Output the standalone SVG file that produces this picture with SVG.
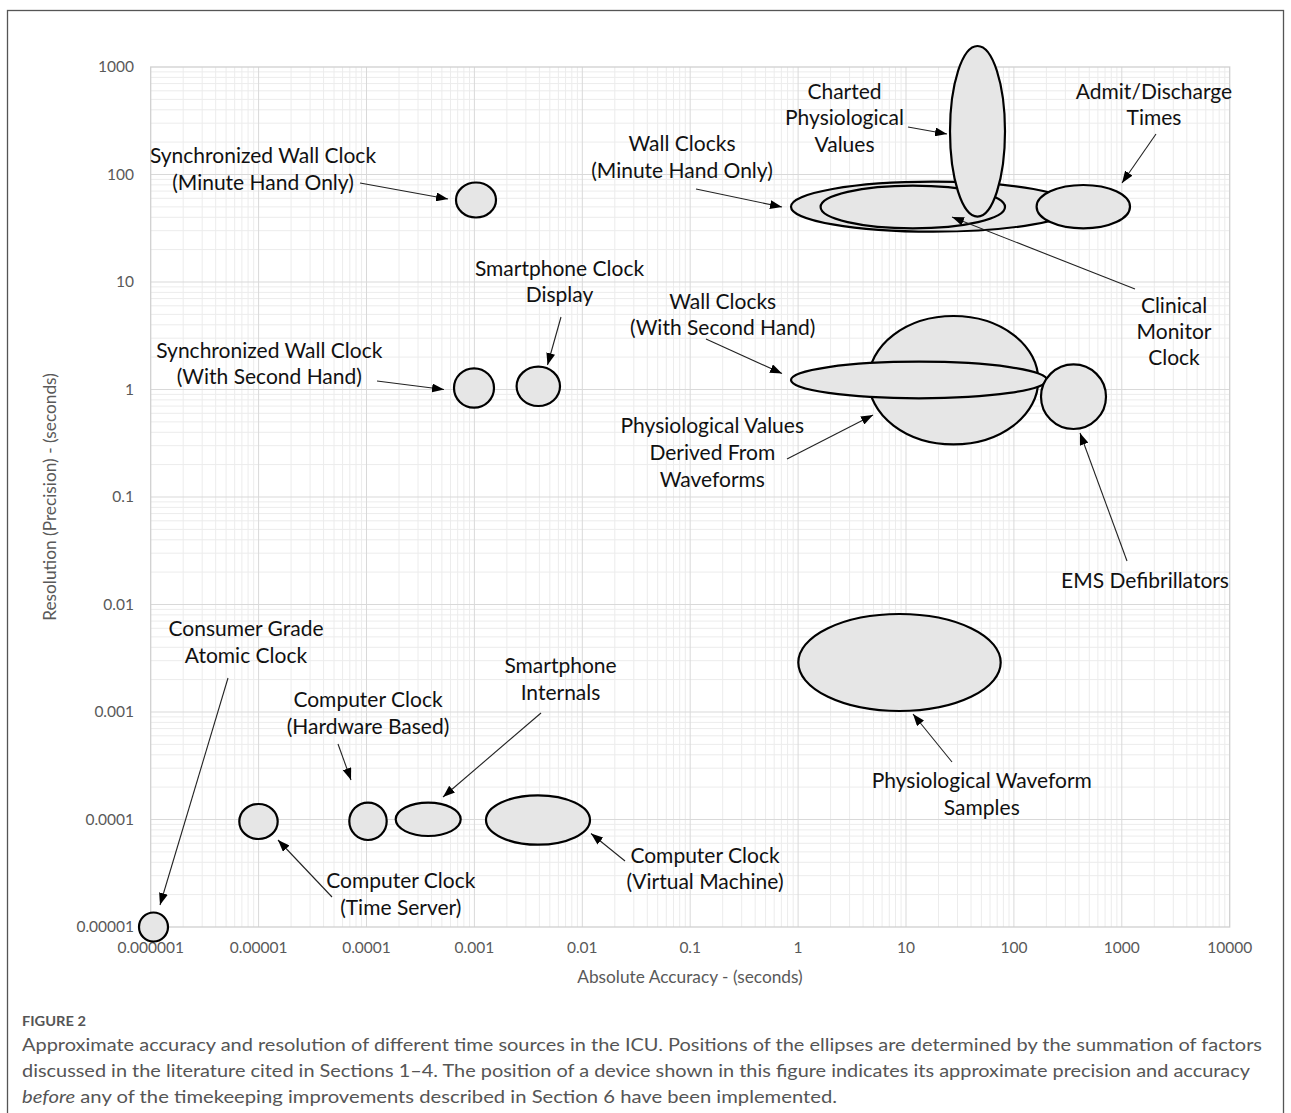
<svg xmlns="http://www.w3.org/2000/svg" width="1291" height="1113" viewBox="0 0 1291 1113">
<defs>
<style>
.minor{stroke:#ececec;stroke-width:1;fill:none}
.major{stroke:#d9d9d9;stroke-width:1;fill:none}
.ell{fill:#e6e6e6;stroke:#000;stroke-width:2.2}
.lbl{font-family:Lato,"Liberation Sans",sans-serif;font-size:21px;fill:#111;text-anchor:middle}
.tick{font-family:Lato,"Liberation Sans",sans-serif;font-size:15.5px;fill:#595959}
.ytick{text-anchor:end}
.xtick{text-anchor:middle}
.axt{font-family:Lato,"Liberation Sans",sans-serif;font-size:17.3px;fill:#595959;text-anchor:middle}
.cap{font-family:Lato,"Liberation Sans",sans-serif;font-size:17px;fill:#555}
.conn line{stroke:#222;stroke-width:1.1;marker-end:url(#ah)}
</style>
<marker id="ah" viewBox="0 0 12 9" refX="12" refY="4.5" markerWidth="12" markerHeight="9" orient="auto" markerUnits="userSpaceOnUse">
<path d="M0,0 L12,4.5 L0,9 z" fill="#000"/>
</marker>
</defs>
<rect x="0" y="0" width="1291" height="1113" fill="#fff"/>
<rect x="7.5" y="10.5" width="1276" height="1120" fill="none" stroke="#555" stroke-width="1.3"/>
<g id="grid">
<path class="minor" d="M183.2,67V927M202.2,67V927M215.7,67V927M226.1,67V927M234.7,67V927M241.9,67V927M248.1,67V927M253.7,67V927M291.1,67V927M310.1,67V927M323.6,67V927M334,67V927M342.6,67V927M349.8,67V927M356,67V927M361.6,67V927M399,67V927M418,67V927M431.5,67V927M441.9,67V927M450.5,67V927M457.7,67V927M463.9,67V927M469.5,67V927M506.9,67V927M525.9,67V927M539.4,67V927M549.8,67V927M558.4,67V927M565.6,67V927M571.8,67V927M577.4,67V927M614.8,67V927M633.8,67V927M647.3,67V927M657.7,67V927M666.3,67V927M673.5,67V927M679.7,67V927M685.3,67V927M722.7,67V927M741.7,67V927M755.2,67V927M765.6,67V927M774.2,67V927M781.4,67V927M787.6,67V927M793.2,67V927M830.6,67V927M849.6,67V927M863.1,67V927M873.5,67V927M882.1,67V927M889.3,67V927M895.5,67V927M901.1,67V927M938.5,67V927M957.5,67V927M971,67V927M981.4,67V927M990,67V927M997.2,67V927M1003.4,67V927M1009,67V927M1046.4,67V927M1065.4,67V927M1078.9,67V927M1089.3,67V927M1097.9,67V927M1105.1,67V927M1111.3,67V927M1116.9,67V927M1154.3,67V927M1173.3,67V927M1186.8,67V927M1197.2,67V927M1205.8,67V927M1213,67V927M1219.2,67V927M1224.8,67V927
M150.7,142.1H1229.7M150.7,123.2H1229.7M150.7,109.8H1229.7M150.7,99.4H1229.7M150.7,90.8H1229.7M150.7,83.6H1229.7M150.7,77.4H1229.7M150.7,71.9H1229.7
M150.7,249.6H1229.7M150.7,230.7H1229.7M150.7,217.3H1229.7M150.7,206.9H1229.7M150.7,198.3H1229.7M150.7,191.1H1229.7M150.7,184.9H1229.7M150.7,179.4H1229.7
M150.7,357.1H1229.7M150.7,338.2H1229.7M150.7,324.8H1229.7M150.7,314.4H1229.7M150.7,305.8H1229.7M150.7,298.6H1229.7M150.7,292.4H1229.7M150.7,286.9H1229.7
M150.7,464.6H1229.7M150.7,445.7H1229.7M150.7,432.3H1229.7M150.7,421.9H1229.7M150.7,413.3H1229.7M150.7,406.1H1229.7M150.7,399.9H1229.7M150.7,394.4H1229.7
M150.7,572.1H1229.7M150.7,553.2H1229.7M150.7,539.8H1229.7M150.7,529.4H1229.7M150.7,520.8H1229.7M150.7,513.6H1229.7M150.7,507.4H1229.7M150.7,501.9H1229.7
M150.7,679.6H1229.7M150.7,660.7H1229.7M150.7,647.3H1229.7M150.7,636.9H1229.7M150.7,628.3H1229.7M150.7,621.1H1229.7M150.7,614.9H1229.7M150.7,609.4H1229.7
M150.7,787.1H1229.7M150.7,768.2H1229.7M150.7,754.8H1229.7M150.7,744.4H1229.7M150.7,735.8H1229.7M150.7,728.6H1229.7M150.7,722.4H1229.7M150.7,716.9H1229.7
M150.7,894.6H1229.7M150.7,875.7H1229.7M150.7,862.3H1229.7M150.7,851.9H1229.7M150.7,843.3H1229.7M150.7,836.1H1229.7M150.7,829.9H1229.7M150.7,824.4H1229.7"/>
<path class="major" d="M258.6,67V927M366.5,67V927M474.4,67V927M582.3,67V927M690.2,67V927M798.1,67V927M906,67V927M1013.9,67V927M1121.8,67V927
M150.7,174.5H1229.7M150.7,282H1229.7M150.7,389.5H1229.7M150.7,497H1229.7M150.7,604.5H1229.7M150.7,712H1229.7M150.7,819.5H1229.7"/>
<rect x="150.7" y="67" width="1079" height="860" fill="none" stroke="#d0d0d0" stroke-width="1.3"/>
</g>
<g id="axes">
<text class="tick ytick" x="134" y="72">1000</text>
<text class="tick ytick" x="134" y="179.5">100</text>
<text class="tick ytick" x="134" y="287">10</text>
<text class="tick ytick" x="134" y="394.5">1</text>
<text class="tick ytick" x="134" y="502">0.1</text>
<text class="tick ytick" x="134" y="609.5">0.01</text>
<text class="tick ytick" x="134" y="717">0.001</text>
<text class="tick ytick" x="134" y="824.5">0.0001</text>
<text class="tick ytick" x="134" y="932">0.00001</text>
<text class="tick xtick" x="150.7" y="953">0.000001</text>
<text class="tick xtick" x="258.6" y="953">0.00001</text>
<text class="tick xtick" x="366.5" y="953">0.0001</text>
<text class="tick xtick" x="474.4" y="953">0.001</text>
<text class="tick xtick" x="582.3" y="953">0.01</text>
<text class="tick xtick" x="690.2" y="953">0.1</text>
<text class="tick xtick" x="798.1" y="953">1</text>
<text class="tick xtick" x="906" y="953">10</text>
<text class="tick xtick" x="1013.9" y="953">100</text>
<text class="tick xtick" x="1121.8" y="953">1000</text>
<text class="tick xtick" x="1229.7" y="953">10000</text>
<text class="axt" x="690" y="983">Absolute Accuracy  - (seconds)</text>
<text class="axt" transform="translate(56,497) rotate(-90)">Resolution (Precision)  - (seconds)</text>
</g>
<g id="wall-clocks-minute"><ellipse class="ell" cx="933" cy="206.7" rx="142" ry="25"/></g>
<g id="clinical-monitor-clock"><ellipse class="ell" cx="912.8" cy="207" rx="92.2" ry="21.3"/></g>
<g id="charted-physiological-values"><ellipse class="ell" cx="977.5" cy="131.3" rx="27.5" ry="85.3"/></g>
<g id="admit-discharge-times"><ellipse class="ell" cx="1083.3" cy="206.7" rx="46.7" ry="21.7"/></g>
<g id="sync-wall-clock-minute"><ellipse class="ell" cx="476" cy="200" rx="20" ry="17.5"/></g>
<g id="physiological-values-derived"><ellipse class="ell" cx="953.5" cy="380.2" rx="84.8" ry="64.2"/></g>
<g id="wall-clocks-second"><ellipse class="ell" cx="919" cy="380" rx="128" ry="18.3"/></g>
<g id="ems-defibrillators"><ellipse class="ell" cx="1073.5" cy="396.7" rx="32.5" ry="32.3"/></g>
<g id="sync-wall-clock-second"><ellipse class="ell" cx="474" cy="388" rx="20" ry="19.7"/></g>
<g id="smartphone-clock-display"><ellipse class="ell" cx="538.3" cy="386.3" rx="21.7" ry="19.7"/></g>
<g id="physiological-waveform-samples"><ellipse class="ell" cx="899.5" cy="662.5" rx="101.2" ry="48.5"/></g>
<g id="atomic-clock"><ellipse class="ell" cx="153.5" cy="927" rx="14.5" ry="14.5"/></g>
<g id="computer-clock-time-server"><ellipse class="ell" cx="258.5" cy="821.5" rx="19.2" ry="17.5"/></g>
<g id="computer-clock-hardware"><ellipse class="ell" cx="368" cy="821.3" rx="18.7" ry="18.7"/></g>
<g id="smartphone-internals"><ellipse class="ell" cx="428.2" cy="819.3" rx="32.5" ry="16.7"/></g>
<g id="computer-clock-vm"><ellipse class="ell" cx="538" cy="820" rx="52" ry="24.7"/></g>
<g id="connectors" class="conn">
<line x1="360" y1="183" x2="448" y2="199"/>
<line x1="696" y1="189" x2="782" y2="207"/>
<line x1="908" y1="127" x2="947" y2="134"/>
<line x1="1156" y1="134" x2="1122" y2="183"/>
<line x1="1135" y1="289" x2="952" y2="217"/>
<line x1="377" y1="381" x2="444" y2="389.5"/>
<line x1="561" y1="317" x2="547.5" y2="365"/>
<line x1="706" y1="339" x2="782" y2="373.5"/>
<line x1="787" y1="459" x2="873" y2="415"/>
<line x1="1127" y1="561" x2="1080" y2="433"/>
<line x1="952" y1="762" x2="913" y2="714"/>
<line x1="228" y1="678" x2="160" y2="905"/>
<line x1="338" y1="744" x2="351" y2="780"/>
<line x1="541" y1="713" x2="443" y2="797"/>
<line x1="332" y1="897" x2="278" y2="840"/>
<line x1="625" y1="861" x2="591" y2="833.5"/>
</g>
<g id="labels">
<text class="lbl" x="263" y="163.3">Synchronized Wall Clock</text>
<text class="lbl" x="263" y="190">(Minute Hand Only)</text>
<text class="lbl" x="682" y="150.7">Wall Clocks</text>
<text class="lbl" x="682" y="177.7">(Minute Hand Only)</text>
<text class="lbl" x="844.5" y="99.3">Charted</text>
<text class="lbl" x="844.5" y="125">Physiological</text>
<text class="lbl" x="844.5" y="151.7">Values</text>
<text class="lbl" x="1154" y="99.3">Admit/Discharge</text>
<text class="lbl" x="1154" y="125">Times</text>
<text class="lbl" x="1174" y="312.7">Clinical</text>
<text class="lbl" x="1174" y="339">Monitor</text>
<text class="lbl" x="1174" y="365">Clock</text>
<text class="lbl" x="559.5" y="275.7">Smartphone Clock</text>
<text class="lbl" x="559.5" y="301.7">Display</text>
<text class="lbl" x="722.7" y="309.3">Wall Clocks</text>
<text class="lbl" x="722.7" y="335">(With Second Hand)</text>
<text class="lbl" x="269.3" y="358.3">Synchronized Wall Clock</text>
<text class="lbl" x="269.3" y="384.3">(With Second Hand)</text>
<text class="lbl" x="712.3" y="433.3">Physiological Values</text>
<text class="lbl" x="712.3" y="460">Derived From</text>
<text class="lbl" x="712.3" y="486.7">Waveforms</text>
<text class="lbl" x="1145" y="588">EMS Defibrillators</text>
<text class="lbl" x="246" y="636">Consumer Grade</text>
<text class="lbl" x="246" y="662.7">Atomic Clock</text>
<text class="lbl" x="560.5" y="673.3">Smartphone</text>
<text class="lbl" x="560.5" y="700">Internals</text>
<text class="lbl" x="368" y="707.3">Computer Clock</text>
<text class="lbl" x="368" y="734">(Hardware Based)</text>
<text class="lbl" x="981.8" y="788.3">Physiological Waveform</text>
<text class="lbl" x="981.8" y="815">Samples</text>
<text class="lbl" x="705" y="862.7">Computer Clock</text>
<text class="lbl" x="705" y="889.3">(Virtual Machine)</text>
<text class="lbl" x="400.8" y="888.3">Computer Clock</text>
<text class="lbl" x="400.8" y="915">(Time Server)</text>
</g>
<g id="caption">
<text class="cap" x="22" y="1026" style="font-size:13px;font-weight:bold" textLength="64" lengthAdjust="spacingAndGlyphs">FIGURE 2</text>
<text class="cap" x="22" y="1051" textLength="1240" lengthAdjust="spacingAndGlyphs">Approximate accuracy and resolution of different time sources in the ICU. Positions of the ellipses are determined by the summation of factors</text>
<text class="cap" x="22" y="1077" textLength="1228" lengthAdjust="spacingAndGlyphs">discussed in the literature cited in Sections 1–4. The position of a device shown in this figure indicates its approximate precision and accuracy</text>
<text class="cap" x="22" y="1103" textLength="815" lengthAdjust="spacingAndGlyphs"><tspan font-style="italic">before</tspan> any of the timekeeping improvements described in Section 6 have been implemented.</text>
</g>
</svg>
